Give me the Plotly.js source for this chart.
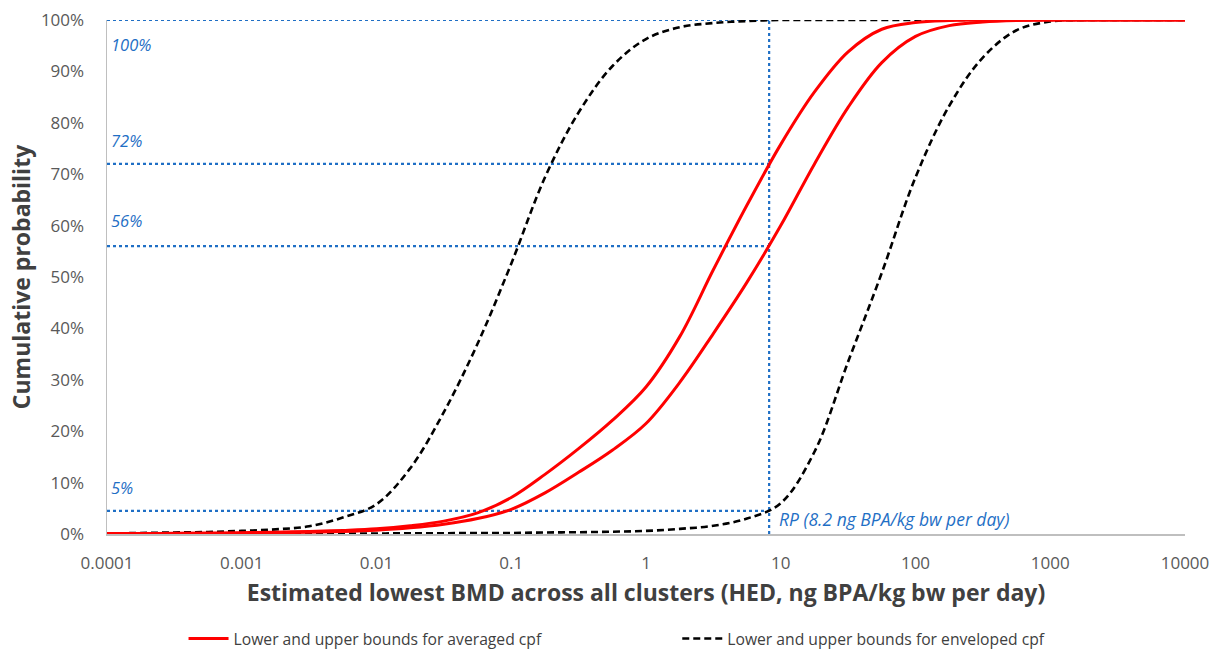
<!DOCTYPE html>
<html>
<head>
<meta charset="utf-8">
<script src="https://cdn.plot.ly/plotly-3.0.1.min.js"></script>
<style>html,body{margin:0;padding:0;background:#fff;}#chart{width:1215px;height:652px;}</style>
</head>
<body>
<div id="chart"></div>
<script>
// Dose grid (quarter-decade steps, ng BPA/kg bw per day)
const doseGrid = [0.0001, 0.000178, 0.000316, 0.000562, 0.001, 0.00178, 0.00316, 0.00562, 0.01, 0.0178, 0.0316, 0.0562,
  0.1, 0.178, 0.316, 0.562, 1, 1.78, 3.16, 5.62, 10, 17.8, 31.6, 56.2, 100, 178, 316, 562, 1000, 1780, 3160, 5620, 10000];
// Averaged cpf, left (red) bound - cumulative probability
const avgLeftY = [0.001, 0.001, 0.0015, 0.002, 0.0025, 0.0035, 0.005, 0.007, 0.010, 0.016, 0.025, 0.041,
  0.071, 0.116, 0.166, 0.221, 0.286, 0.384, 0.514, 0.640, 0.758, 0.860, 0.938, 0.982, 0.995, 0.999, 1.0, 1.0, 1.0, 1.0, 1.0, 1.0, 1.0];
// Averaged cpf, right (red) bound
const avgRightY = [0.0005, 0.0005, 0.001, 0.001, 0.0015, 0.0025, 0.0035, 0.005, 0.0075, 0.012, 0.019, 0.030,
  0.048, 0.080, 0.120, 0.163, 0.215, 0.295, 0.390, 0.490, 0.600, 0.720, 0.830, 0.917, 0.968, 0.989, 0.996, 0.999, 1.0, 1.0, 1.0, 1.0, 1.0];
// Enveloped cpf, left (black dashed) bound
const envLeftY = [0.001, 0.002, 0.003, 0.004, 0.006, 0.009, 0.015, 0.032, 0.058, 0.128, 0.237, 0.370,
  0.526, 0.694, 0.820, 0.910, 0.963, 0.986, 0.994, 0.998, 1.0, 1.0, 1.0, 1.0, 1.0, 1.0, 1.0, 1.0, 1.0, 1.0, 1.0, 1.0, 1.0];
// Enveloped cpf, right (black dashed) bound
const envRightY = [0.0, 0.0, 0.0, 0.0, 0.0005, 0.0005, 0.001, 0.001, 0.001, 0.0015, 0.0015, 0.002,
  0.002, 0.003, 0.0035, 0.0045, 0.006, 0.010, 0.016, 0.030, 0.060, 0.160, 0.335, 0.508, 0.694, 0.833, 0.927, 0.980, 0.997, 1.0, 1.0, 1.0, 1.0];

const refLevels = [1.0, 0.72, 0.56, 0.045];
const refLabels = ['100%', '72%', '56%', '5%'];
const rpValue = 8.2;
const rpLabel = 'RP (8.2 ng BPA/kg bw per day)';
const xTickVals = [0.0001, 0.001, 0.01, 0.1, 1, 10, 100, 1000, 10000];
const xTickText = ['0.0001', '0.001', '0.01', '0.1', '1', '10', '100', '1000', '10000'];
const seriesNames = ['Lower and upper bounds for averaged cpf', 'Lower and upper bounds for enveloped cpf'];

const blue = '#1F6FC5';
const xMin = 0.0001;
const traces = [];

refLevels.forEach(v => {
  traces.push({x: [xMin, rpValue], y: [v, v], mode: 'lines', showlegend: false, hoverinfo: 'skip',
    line: {color: blue, width: 2.2, dash: 'dot'}});
});
traces.push({x: [rpValue, rpValue], y: [0, 1], mode: 'lines', showlegend: false, hoverinfo: 'skip',
  line: {color: blue, width: 2.2, dash: 'dot'}});

const redLine = {color: '#FF0000', width: 3, shape: 'spline', smoothing: 1.0};
const blackLine = {color: '#000000', width: 2.6, dash: '7px,4px', shape: 'spline', smoothing: 1.0};
traces.push({x: doseGrid, y: envLeftY, mode: 'lines', name: seriesNames[1], legend: 'legend2', showlegend: false, line: blackLine});
traces.push({x: doseGrid, y: envRightY, mode: 'lines', name: seriesNames[1], legend: 'legend2', showlegend: true, line: blackLine});
traces.push({x: doseGrid, y: avgLeftY, mode: 'lines', name: seriesNames[0], legend: 'legend', showlegend: true, line: redLine});
traces.push({x: doseGrid, y: avgRightY, mode: 'lines', name: seriesNames[0], legend: 'legend', showlegend: false, line: redLine});

const fontMain = '"Open Sans", "DejaVu Sans", sans-serif';
const labelY = [0.952, 0.765, 0.61, 0.09];
const annotations = refLabels.map((t, i) => ({
  text: t, xref: 'paper', yref: 'paper', x: 0.002, y: labelY[i], xanchor: 'left', yanchor: 'middle',
  showarrow: false, font: {family: fontMain, size: 16.5, color: blue, style: 'italic'}
}));
annotations.push({text: rpLabel, xref: 'x', yref: 'paper', x: Math.log10(rpValue), y: 0.03, xanchor: 'left', yanchor: 'middle',
  xshift: 8, showarrow: false, font: {family: fontMain, size: 17.5, color: blue, style: 'italic'}});

const legendBase = {orientation: 'h', yanchor: 'middle', xanchor: 'left', y: -0.204,
  font: {size: 15.7, color: '#404040', family: fontMain}, bgcolor: 'rgba(0,0,0,0)', itemwidth: 40};

const layout = {
  width: 1215, height: 652,
  margin: {l: 107, r: 30, t: 20, b: 118, autoexpand: false},
  paper_bgcolor: '#ffffff', plot_bgcolor: '#ffffff',
  font: {family: fontMain, color: '#595959', size: 17},
  xaxis: {type: 'log', range: [-4, 4], tickvals: xTickVals, ticktext: xTickText, showgrid: false, zeroline: false,
    showline: true, linecolor: '#BFBFBF', linewidth: 1.5, ticks: '', ticklabelstandoff: 13,
    tickfont: {size: 17, color: '#595959', family: fontMain},
    title: {text: 'Estimated lowest BMD across all clusters (HED, ng BPA/kg bw per day)', standoff: 12,
      font: {size: 23, color: '#404040', family: fontMain, weight: 'bold'}}},
  yaxis: {range: [0, 1], dtick: 0.1, tickformat: '.0%', showgrid: false, zeroline: false,
    showline: true, linecolor: '#BFBFBF', linewidth: 1.5, ticks: '', ticklabelstandoff: 18,
    tickfont: {size: 17, color: '#595959', family: fontMain},
    title: {text: 'Cumulative probability', standoff: 4,
      font: {size: 23, color: '#404040', family: fontMain, weight: 'bold'}}},
  showlegend: true,
  legend: Object.assign({}, legendBase, {x: 0.071}),
  legend2: Object.assign({}, legendBase, {x: 0.529}),
  annotations: annotations
};

Plotly.newPlot('chart', traces, layout, {displayModeBar: false, staticPlot: true});
</script>
</body>
</html>
